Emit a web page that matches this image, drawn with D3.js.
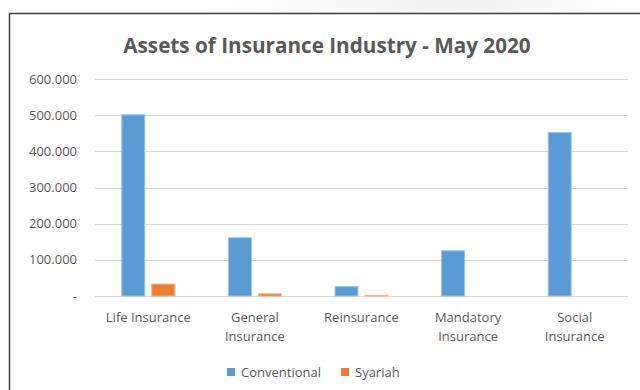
<!DOCTYPE html>
<html><head><meta charset="utf-8">
<script src="https://cdn.jsdelivr.net/npm/d3@7"></script>
<style>body{margin:0;background:#fff;}svg{display:block;}</style>
</head><body>
<svg id="c" width="640" height="390"></svg>
<script>
const categories = [["Life Insurance"], ["General", "Insurance"], ["Reinsurance"], ["Mandatory", "Insurance"], ["Social", "Insurance"]];
const seriesNames = ["Conventional", "Syariah"];
const conventional = [501000, 161000, 26000, 125000, 452000];
const syariah = [33000, 6000, 2000, 0, 0];
const yTicks = [0, 100000, 200000, 300000, 400000, 500000, 600000];
const yTickLabels = ["-", "100.000", "200.000", "300.000", "400.000", "500.000", "600.000"];
const colors = ["#5B9BD5", "#ED7D31"];
const strokes = ["#9DC3E6", "#F4B183"];

const svg = d3.select("#c");
const font = "'Open Sans', 'Noto Sans', sans-serif";

// faint band above frame
const defs = svg.append("defs");
const lg = defs.append("linearGradient").attr("id","wm").attr("x1","0").attr("x2","1");
lg.append("stop").attr("offset","0").attr("stop-color","#fff");
lg.append("stop").attr("offset","0.6").attr("stop-color","#f2f2f2");
lg.append("stop").attr("offset","1").attr("stop-color","#fff");
svg.append("rect").attr("x",200).attr("y",0).attr("width",440).attr("height",13).attr("fill","url(#wm)");

// frame
svg.append("path").attr("d","M9.5,400 V13.5 H640").attr("fill","none").attr("stroke","#404040").attr("stroke-width",1.5);

const x0 = d3.scaleBand().domain(d3.range(categories.length)).range([95, 628]);
const y = d3.scaleLinear().domain([0, 600000]).range([296, 79]);

// gridlines
svg.append("g").selectAll("line").data(yTicks).join("line")
  .attr("x1", 95).attr("x2", 628)
  .attr("y1", d => Math.round(y(d)) + 0.5).attr("y2", d => Math.round(y(d)) + 0.5)
  .attr("stroke", "#d9d9d9").attr("stroke-width", 1);

// y labels
svg.append("g").selectAll("text").data(yTicks).join("text")
  .attr("x", 77).attr("y", d => y(d) + 4.5)
  .attr("text-anchor", "end")
  .attr("font-family", font).attr("font-size", 13).attr("fill", "#595959")
  .text((d, i) => yTickLabels[i]);

// bars
const bw = 24, gap = 6;
const series = [conventional, syariah];
series.forEach((vals, s) => {
  svg.append("g").selectAll("rect").data(vals).join("rect")
    .attr("x", (d, i) => x0(i) + x0.bandwidth() / 2 - (bw * 2 + gap) / 2 + s * (bw + gap) + 0.5)
    .attr("y", d => y(d))
    .attr("width", bw - 1)
    .attr("height", d => Math.max(0, y(0) - y(d)))
    .attr("fill", colors[s])
    .attr("stroke", d => d > 0 ? strokes[s] : "none")
    .attr("stroke-width", 1);
});

// x labels
const xl = svg.append("g").selectAll("text").data(categories).join("text")
  .attr("text-anchor", "middle")
  .attr("font-family", font).attr("font-size", 13).attr("fill", "#595959");
xl.each(function(lines, i) {
  const t = d3.select(this);
  lines.forEach((ln, k) => {
    t.append("tspan").attr("x", x0(i) + x0.bandwidth() / 2).attr("y", 322 + k * 19).text(ln);
  });
});

// title
svg.append("text").attr("x", 327).attr("y", 53).attr("text-anchor", "middle")
  .attr("font-family", font).attr("font-weight", "bold").attr("font-size", 20.7)
  .attr("fill", "#595959").text("Assets of Insurance Industry - May 2020");

// legend
const legX = [227, 341];
seriesNames.forEach((n, s) => {
  svg.append("rect").attr("x", legX[s]).attr("y", 368).attr("width", 8).attr("height", 8).attr("fill", colors[s]);
  svg.append("text").attr("x", legX[s] + 14).attr("y", 376.5)
    .attr("font-family", font).attr("font-size", 13).attr("fill", "#595959").text(n);
});
</script>
</body></html>
